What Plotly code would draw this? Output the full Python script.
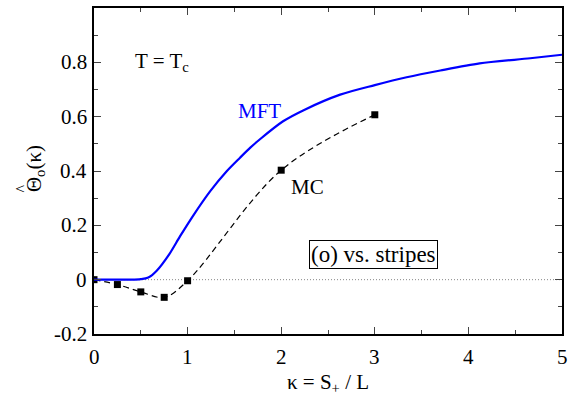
import plotly.graph_objects as go

# MFT curve
mft_kappa = [0.0, 0.2, 0.4, 0.5, 0.58, 0.67, 0.805, 0.92, 1.06, 1.24, 1.42, 1.56, 1.67,
             1.77, 2.02, 2.24, 2.63, 3.0, 3.34, 3.7, 4.12, 4.66, 5.0]
mft_theta = [0.0, 0.0, 0.0, 0.002, 0.008, 0.033, 0.094, 0.16, 0.236, 0.325, 0.40, 0.449, 0.486,
             0.516, 0.583, 0.624, 0.681, 0.716, 0.745, 0.770, 0.796, 0.815, 0.828]

# MC data
mc_kappa = [0.0, 0.25, 0.5, 0.75, 1.0, 2.0, 3.0]
mc_theta = [0.0, -0.018, -0.045, -0.065, -0.004, 0.403, 0.607]

x_ticks = [0, 1, 2, 3, 4, 5]
x_labels = ["0", "1", "2", "3", "4", "5"]
y_ticks = [-0.2, 0, 0.2, 0.4, 0.6, 0.8]
y_labels = ["-0.2", "0", "0.2", "0.4", "0.6", "0.8"]

FONT = "Liberation Serif"
FS = 21

fig = go.Figure()
fig.add_trace(go.Scatter(x=[0, 5], y=[0, 0], mode="lines",
                         line=dict(color="#888888", width=1, dash="1px,2px"),
                         hoverinfo="skip", showlegend=False))
fig.add_trace(go.Scatter(x=mc_kappa, y=mc_theta, mode="lines+markers",
                         line=dict(color="black", width=1.2, dash="6px,4px", shape="spline"),
                         marker=dict(symbol="square", size=7, color="black"),
                         showlegend=False))
fig.add_trace(go.Scatter(x=mft_kappa, y=mft_theta, mode="lines",
                         line=dict(color="#0000ff", width=2.2, shape="spline", smoothing=0.8),
                         showlegend=False))

common = dict(showgrid=False, zeroline=False, showline=True, linecolor="black",
              linewidth=1.5, mirror="allticks", ticks="inside", ticklen=7,
              tickwidth=1, tickcolor="#444444", showticklabels=False)
fig.update_xaxes(range=[0, 5], tickvals=x_ticks,
                 minor=dict(dtick=0.5, ticks="inside", ticklen=4, tickcolor="#444444"), **common)
fig.update_yaxes(range=[-0.2, 1.0], tickvals=y_ticks,
                 minor=dict(dtick=0.1, ticks="inside", ticklen=4, tickcolor="#444444"), **common)

tfont = dict(family=FONT, size=FS, color="black")
# tick labels drawn as text positioned on the axis scales
for v, lab in zip(x_ticks, x_labels):
    fig.add_annotation(x=v, xref="x", y=-0.07, yref="paper", text=lab, showarrow=False,
                       xanchor="center", yanchor="middle", font=tfont)
for v, lab in zip(y_ticks, y_labels):
    fig.add_annotation(x=-0.011, xref="paper", y=v, yref="y", text=lab, showarrow=False,
                       xanchor="right", yanchor="middle", font=tfont)

# axis titles
fig.add_annotation(xref="paper", yref="paper", x=0.5, y=-0.15, text="κ = S<sub>+</sub> / L",
                   showarrow=False, xanchor="center", yanchor="middle", font=tfont)
fig.add_annotation(xref="paper", yref="paper", x=-0.158, y=0.506, text="Θ<sub>o</sub>(κ)",
                   textangle=-90, showarrow=False, font=tfont)
fig.add_annotation(xref="paper", yref="paper", x=-0.177, y=0.445, text="^",
                   textangle=-90, showarrow=False,
                   font=dict(family=FONT, size=16, color="black"))

fig.add_annotation(x=0.42, y=0.8, text="T = T<sub>c</sub>", showarrow=False, xanchor="left",
                   font=tfont)
fig.add_annotation(x=1.77, y=0.62, text="MFT", showarrow=False,
                   font=dict(family=FONT, size=FS, color="#0000ff"))
fig.add_annotation(x=2.28, y=0.34, text="MC", showarrow=False, font=tfont)
fig.add_annotation(x=2.986, y=0.094, text="(o) vs. stripes", showarrow=False,
                   bordercolor="black", borderwidth=1, borderpad=1, bgcolor="white",
                   font=dict(family=FONT, size=23, color="black"))

fig.update_layout(width=581, height=403, margin=dict(l=94, r=19, t=6, b=69),
                  paper_bgcolor="white", plot_bgcolor="white",
                  font=dict(family=FONT, size=FS, color="black"))

fig.write_html("out.html", post_script="document.body.style.margin='0';",
               config={"displayModeBar": False})
